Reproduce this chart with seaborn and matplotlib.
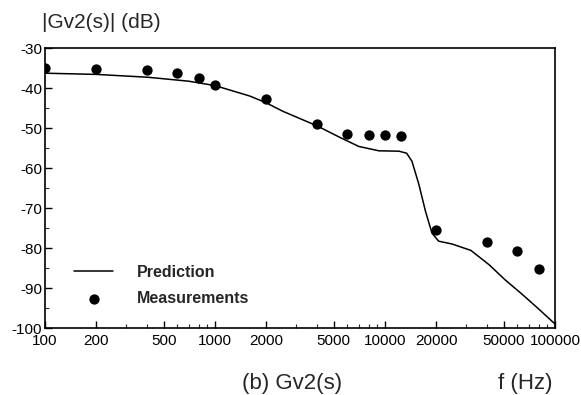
import matplotlib
matplotlib.use("Agg")
import matplotlib.pyplot as plt
import matplotlib.ticker as mticker
import seaborn as sns
import pandas as pd
import numpy as np

# Prediction curve (frequency in Hz, magnitude in dB)
pred_freq = [100, 200, 400, 700, 1000, 1600, 2000, 2500, 4000, 5400, 7000, 9200,
             12100, 13400, 14400, 15800, 17300, 18900, 20700, 24800, 32000, 41000,
             51000, 63000, 79000, 100000]
pred_db = [-36.3, -36.6, -37.3, -38.3, -39.4, -42.0, -43.7, -45.8, -49.5, -52.3, -54.6, -55.7,
           -55.8, -56.3, -58.3, -64.0, -70.8, -76.3, -78.3, -79.0, -80.6, -84.2,
           -88.0, -91.3, -95.0, -99.0]

# Measurements
meas_freq = [100, 200, 400, 600, 800, 1000, 2000, 4000, 6000, 8000, 10000, 12500,
             20000, 40000, 60000, 80000]
meas_db = [-35.0, -35.2, -35.6, -36.2, -37.6, -39.2, -42.7, -49.0, -51.6, -51.8, -51.8, -51.9,
           -75.5, -78.5, -80.8, -85.3]

xticks = [100, 200, 500, 1000, 2000, 5000, 10000, 20000, 50000, 100000]
yticks = [-100, -90, -80, -70, -60, -50, -40, -30]

sns.set_theme(style="white")
plt.rcParams['font.family'] = ['Liberation Sans', 'DejaVu Sans']

pred_df = pd.DataFrame({"f": pred_freq, "dB": pred_db})
meas_df = pd.DataFrame({"f": meas_freq, "dB": meas_db})

fig = plt.figure(figsize=(5.81, 3.95), dpi=100)
ax = fig.add_axes([45 / 581, 1 - 328 / 395, (555 - 45) / 581, (328 - 48) / 395])

sns.lineplot(data=pred_df, x="f", y="dB", ax=ax, color="black", linewidth=1.1,
             sort=False, estimator=None, label="Prediction")
sns.scatterplot(data=meas_df, x="f", y="dB", ax=ax, color="black", s=55,
                edgecolor="black", linewidth=0, label="Measurements", zorder=3)

ax.set_xscale("log")
ax.set_xlim(100, 100000)
ax.set_ylim(-100, -30)
ax.set_xticks(xticks)
ax.set_xticklabels([str(t) for t in xticks])
ax.xaxis.set_minor_locator(mticker.LogLocator(base=10, subs=np.arange(2, 10)))
ax.xaxis.set_minor_formatter(mticker.NullFormatter())
ax.set_yticks(yticks)
ax.set_yticklabels([str(t) for t in yticks])
ax.yaxis.set_minor_locator(mticker.MultipleLocator(5))

ax.tick_params(axis="both", which="major", direction="in", length=5, width=1,
               labelsize=11, colors="black", pad=2, bottom=True, left=True,
               top=False, right=False)
ax.tick_params(axis="x", which="major", pad=4)
ax.tick_params(axis="both", which="minor", direction="in", length=3, width=0.8,
               bottom=True, left=True, top=False, right=False)
for sp in ax.spines.values():
    sp.set_color("black")
    sp.set_linewidth(1.2)

ax.set_xlabel("")
ax.set_ylabel("")
ax.grid(False)

leg = ax.legend(loc="upper left", bbox_to_anchor=(66 / 581, 1 - 257 / 395),
                bbox_transform=fig.transFigure, frameon=False, handlelength=2.45,
                handletextpad=1.5, labelspacing=0.7, borderpad=0,
                prop={"size": 11.5, "weight": "bold"})

fig.text(42 / 581, 1 - 22 / 395, "|Gv2(s)| (dB)", fontsize=15, ha="left", va="center")
fig.text(292 / 581, 1 - 384 / 395, "(b) Gv2(s)", fontsize=16, ha="center", va="center")
fig.text(525 / 581, 1 - 384 / 395, "f (Hz)", fontsize=16, ha="center", va="center")

fig.savefig("out.png", dpi=100)
